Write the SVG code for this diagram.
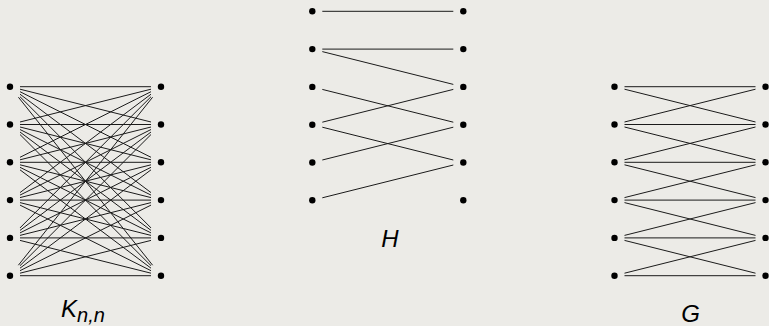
<svg xmlns="http://www.w3.org/2000/svg" width="769" height="326" viewBox="0 0 769 326">
<style>
.bg{fill:#ECEBE7}
.dot{fill:#000}
.edges line{stroke:#1a1a1a;stroke-width:1;fill:none}
.lbl{font-family:"Liberation Sans",Arial,sans-serif;font-style:italic;font-size:24px;fill:#000}
</style>
<defs>
<mask id="clip" maskUnits="userSpaceOnUse" x="0" y="0" width="769" height="326">
<rect x="0" y="0" width="769" height="326" fill="#fff"/>
<g fill="#000">
<rect x="0" y="76.2" width="20" height="21"/><rect x="0" y="114" width="20" height="21"/><rect x="0" y="151.8" width="20" height="21"/><rect x="0" y="189.6" width="20" height="21"/><rect x="0" y="227.4" width="20" height="21"/><rect x="0" y="265.2" width="20" height="21"/>
<rect x="151" y="76.2" width="20" height="21"/><rect x="151" y="114" width="20" height="21"/><rect x="151" y="151.8" width="20" height="21"/><rect x="151" y="189.6" width="20" height="21"/><rect x="151" y="227.4" width="20" height="21"/><rect x="151" y="265.2" width="20" height="21"/>
<rect x="302.3" y="0.8" width="20" height="21"/><rect x="302.3" y="38.6" width="20" height="21"/><rect x="302.3" y="76.4" width="20" height="21"/><rect x="302.3" y="114.2" width="20" height="21"/><rect x="302.3" y="152" width="20" height="21"/><rect x="302.3" y="189.8" width="20" height="21"/>
<rect x="453.3" y="0.8" width="20" height="21"/><rect x="453.3" y="38.6" width="20" height="21"/><rect x="453.3" y="76.4" width="20" height="21"/><rect x="453.3" y="114.2" width="20" height="21"/><rect x="453.3" y="152" width="20" height="21"/><rect x="453.3" y="189.8" width="20" height="21"/>
<rect x="604.5" y="76.2" width="20" height="21"/><rect x="604.5" y="114" width="20" height="21"/><rect x="604.5" y="151.8" width="20" height="21"/><rect x="604.5" y="189.6" width="20" height="21"/><rect x="604.5" y="227.4" width="20" height="21"/><rect x="604.5" y="265.2" width="20" height="21"/>
<rect x="755.5" y="76.2" width="20" height="21"/><rect x="755.5" y="114" width="20" height="21"/><rect x="755.5" y="151.8" width="20" height="21"/><rect x="755.5" y="189.6" width="20" height="21"/><rect x="755.5" y="227.4" width="20" height="21"/><rect x="755.5" y="265.2" width="20" height="21"/>
</g>
</mask>
</defs>
<rect class="bg" x="0" y="0" width="769" height="326"/>

<g id="connectors" class="edges" mask="url(#clip)">
<g id="edges-K">
<line x1="10" y1="86.7" x2="161" y2="86.7"/><line x1="10" y1="86.7" x2="161" y2="124.5"/><line x1="10" y1="86.7" x2="161" y2="162.3"/><line x1="10" y1="86.7" x2="161" y2="200.1"/><line x1="10" y1="86.7" x2="161" y2="237.9"/><line x1="10" y1="86.7" x2="161" y2="275.7"/>
<line x1="10" y1="124.5" x2="161" y2="86.7"/><line x1="10" y1="124.5" x2="161" y2="124.5"/><line x1="10" y1="124.5" x2="161" y2="162.3"/><line x1="10" y1="124.5" x2="161" y2="200.1"/><line x1="10" y1="124.5" x2="161" y2="237.9"/><line x1="10" y1="124.5" x2="161" y2="275.7"/>
<line x1="10" y1="162.3" x2="161" y2="86.7"/><line x1="10" y1="162.3" x2="161" y2="124.5"/><line x1="10" y1="162.3" x2="161" y2="162.3"/><line x1="10" y1="162.3" x2="161" y2="200.1"/><line x1="10" y1="162.3" x2="161" y2="237.9"/><line x1="10" y1="162.3" x2="161" y2="275.7"/>
<line x1="10" y1="200.1" x2="161" y2="86.7"/><line x1="10" y1="200.1" x2="161" y2="124.5"/><line x1="10" y1="200.1" x2="161" y2="162.3"/><line x1="10" y1="200.1" x2="161" y2="200.1"/><line x1="10" y1="200.1" x2="161" y2="237.9"/><line x1="10" y1="200.1" x2="161" y2="275.7"/>
<line x1="10" y1="237.9" x2="161" y2="86.7"/><line x1="10" y1="237.9" x2="161" y2="124.5"/><line x1="10" y1="237.9" x2="161" y2="162.3"/><line x1="10" y1="237.9" x2="161" y2="200.1"/><line x1="10" y1="237.9" x2="161" y2="237.9"/><line x1="10" y1="237.9" x2="161" y2="275.7"/>
<line x1="10" y1="275.7" x2="161" y2="86.7"/><line x1="10" y1="275.7" x2="161" y2="124.5"/><line x1="10" y1="275.7" x2="161" y2="162.3"/><line x1="10" y1="275.7" x2="161" y2="200.1"/><line x1="10" y1="275.7" x2="161" y2="237.9"/><line x1="10" y1="275.7" x2="161" y2="275.7"/>
</g>
<g id="edges-H">
<line x1="312.3" y1="11.3" x2="463.3" y2="11.3"/>
<line x1="312.3" y1="49.1" x2="463.3" y2="49.1"/>
<line x1="312.3" y1="49.1" x2="463.3" y2="86.9"/>
<line x1="312.3" y1="86.9" x2="463.3" y2="124.7"/>
<line x1="312.3" y1="124.7" x2="463.3" y2="86.9"/>
<line x1="312.3" y1="124.7" x2="463.3" y2="162.5"/>
<line x1="312.3" y1="162.5" x2="463.3" y2="124.7"/>
<line x1="312.3" y1="200.3" x2="463.3" y2="162.5"/>
</g>
<g id="edges-G">
<line x1="614.5" y1="86.7" x2="765.5" y2="86.7"/><line x1="614.5" y1="124.5" x2="765.5" y2="124.5"/><line x1="614.5" y1="162.3" x2="765.5" y2="162.3"/><line x1="614.5" y1="200.1" x2="765.5" y2="200.1"/><line x1="614.5" y1="237.9" x2="765.5" y2="237.9"/><line x1="614.5" y1="275.7" x2="765.5" y2="275.7"/>
<line x1="614.5" y1="86.7" x2="765.5" y2="124.5"/><line x1="614.5" y1="124.5" x2="765.5" y2="86.7"/>
<line x1="614.5" y1="124.5" x2="765.5" y2="162.3"/><line x1="614.5" y1="162.3" x2="765.5" y2="124.5"/>
<line x1="614.5" y1="162.3" x2="765.5" y2="200.1"/><line x1="614.5" y1="200.1" x2="765.5" y2="162.3"/>
<line x1="614.5" y1="200.1" x2="765.5" y2="237.9"/><line x1="614.5" y1="237.9" x2="765.5" y2="200.1"/>
<line x1="614.5" y1="237.9" x2="765.5" y2="275.7"/><line x1="614.5" y1="275.7" x2="765.5" y2="237.9"/>
</g>
</g>

<g id="nodes-K">
<g id="K-L1"><circle class="dot" cx="10" cy="86.7" r="3.2"/></g>
<g id="K-L2"><circle class="dot" cx="10" cy="124.5" r="3.2"/></g>
<g id="K-L3"><circle class="dot" cx="10" cy="162.3" r="3.2"/></g>
<g id="K-L4"><circle class="dot" cx="10" cy="200.1" r="3.2"/></g>
<g id="K-L5"><circle class="dot" cx="10" cy="237.9" r="3.2"/></g>
<g id="K-L6"><circle class="dot" cx="10" cy="275.7" r="3.2"/></g>
<g id="K-R1"><circle class="dot" cx="161" cy="86.7" r="3.2"/></g>
<g id="K-R2"><circle class="dot" cx="161" cy="124.5" r="3.2"/></g>
<g id="K-R3"><circle class="dot" cx="161" cy="162.3" r="3.2"/></g>
<g id="K-R4"><circle class="dot" cx="161" cy="200.1" r="3.2"/></g>
<g id="K-R5"><circle class="dot" cx="161" cy="237.9" r="3.2"/></g>
<g id="K-R6"><circle class="dot" cx="161" cy="275.7" r="3.2"/></g>
</g>
<g id="nodes-H">
<g id="H-L1"><circle class="dot" cx="312.3" cy="11.3" r="3.2"/></g>
<g id="H-L2"><circle class="dot" cx="312.3" cy="49.1" r="3.2"/></g>
<g id="H-L3"><circle class="dot" cx="312.3" cy="86.9" r="3.2"/></g>
<g id="H-L4"><circle class="dot" cx="312.3" cy="124.7" r="3.2"/></g>
<g id="H-L5"><circle class="dot" cx="312.3" cy="162.5" r="3.2"/></g>
<g id="H-L6"><circle class="dot" cx="312.3" cy="200.3" r="3.2"/></g>
<g id="H-R1"><circle class="dot" cx="463.3" cy="11.3" r="3.2"/></g>
<g id="H-R2"><circle class="dot" cx="463.3" cy="49.1" r="3.2"/></g>
<g id="H-R3"><circle class="dot" cx="463.3" cy="86.9" r="3.2"/></g>
<g id="H-R4"><circle class="dot" cx="463.3" cy="124.7" r="3.2"/></g>
<g id="H-R5"><circle class="dot" cx="463.3" cy="162.5" r="3.2"/></g>
<g id="H-R6"><circle class="dot" cx="463.3" cy="200.3" r="3.2"/></g>
</g>
<g id="nodes-G">
<g id="G-L1"><circle class="dot" cx="614.5" cy="86.7" r="3.2"/></g>
<g id="G-L2"><circle class="dot" cx="614.5" cy="124.5" r="3.2"/></g>
<g id="G-L3"><circle class="dot" cx="614.5" cy="162.3" r="3.2"/></g>
<g id="G-L4"><circle class="dot" cx="614.5" cy="200.1" r="3.2"/></g>
<g id="G-L5"><circle class="dot" cx="614.5" cy="237.9" r="3.2"/></g>
<g id="G-L6"><circle class="dot" cx="614.5" cy="275.7" r="3.2"/></g>
<g id="G-R1"><circle class="dot" cx="765.5" cy="86.7" r="3.2"/></g>
<g id="G-R2"><circle class="dot" cx="765.5" cy="124.5" r="3.2"/></g>
<g id="G-R3"><circle class="dot" cx="765.5" cy="162.3" r="3.2"/></g>
<g id="G-R4"><circle class="dot" cx="765.5" cy="200.1" r="3.2"/></g>
<g id="G-R5"><circle class="dot" cx="765.5" cy="237.9" r="3.2"/></g>
<g id="G-R6"><circle class="dot" cx="765.5" cy="275.7" r="3.2"/></g>
</g>

<g id="labels">
<g id="label-K"><text class="lbl" x="61" y="316.7">K<tspan font-size="20" dy="5">n,n</tspan></text></g>
<g id="label-H"><text class="lbl" x="390" y="246.7" text-anchor="middle">H</text></g>
<g id="label-G"><text class="lbl" x="690.5" y="321.5" text-anchor="middle">G</text></g>
</g>
</svg>
